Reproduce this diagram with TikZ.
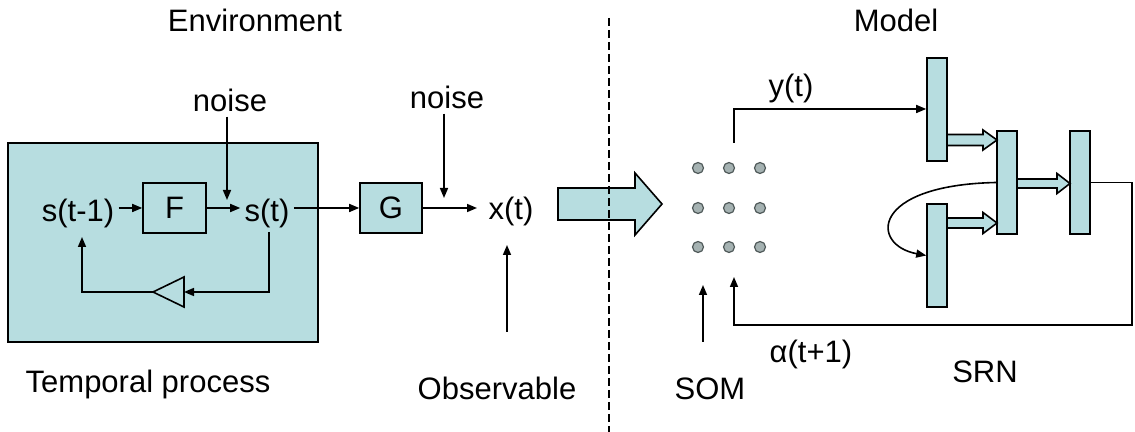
\documentclass[tikz,border=0pt]{standalone}
\usepackage{fontspec}
\setmainfont{Liberation Sans}
\usetikzlibrary{arrows.meta,calc}
\definecolor{boxfill}{RGB}{183,221,224}
\definecolor{dotfill}{RGB}{165,178,178}
\definecolor{dotline}{RGB}{80,90,90}
% fat arrow: x1, x2(tip), yc, head length, shaft half, head half
\newcommand{\fatarr}[6]{\draw[fat] (#1,#3-#5) -- (#2-#4,#3-#5) -- (#2-#4,#3-#6) -- (#2,#3) -- (#2-#4,#3+#6) -- (#2-#4,#3+#5) -- (#1,#3+#5) -- cycle;}
\begin{document}
\begin{tikzpicture}[x=0.5pt,y=-0.5pt,
  lbl/.style={font=\fontsize{15.5pt}{18pt}\selectfont, inner sep=2pt, anchor=base},
  box/.style={draw, fill=boxfill, line width=0.8pt, inner sep=0pt},
  boxtxt/.style={box, font=\fontsize{15.5pt}{18pt}\selectfont},
  layer/.style={box, minimum width=10pt, minimum height=51.5pt},
  ln/.style={line width=0.8pt},
  arr/.style={line width=0.8pt, -{Triangle[length=5pt,width=4pt]}},
  dot/.style={circle, draw=dotline, fill=dotfill, line width=0.6pt, minimum size=5.5pt, inner sep=0pt},
  fat/.style={draw, fill=boxfill, line width=0.8pt, line join=miter},
  divider/.style={line width=0.7pt, dash pattern=on 4pt off 2pt}]
\useasboundingbox (0,0) rectangle (1135,432);

% ---------- Environment ----------
\node[box, minimum width=155pt, minimum height=99.5pt] (envbox) at (163,242.5) {};
\node[lbl] (envtitle) at (255,32) {Environment};
\node[lbl] (modeltitle) at (896,32) {Model};

\node[boxtxt, minimum width=31.5pt, minimum height=25pt] (F) at (174.5,208) {F};
\node[boxtxt, minimum width=31pt, minimum height=25pt] (G) at (391,208) {G};

\node[lbl] (stm1) at (78,222) {s(t-1)};
\node[lbl] (st) at (267,222) {s(t)};
\node[lbl] (xt) at (511,220) {x(t)};
\node[lbl] (noiseA) at (230,112) {noise};
\node[lbl] (noiseB) at (447,109) {noise};
\node[lbl] (temporal) at (148,393) {Temporal process};
\node[lbl] (observable) at (497,400) {Observable};

\coordinate (nAend) at (227,200);
\coordinate (nBend) at (444,198);
\coordinate (xtin) at (477,208);
\coordinate (obsA) at (507,332);
\coordinate (obsB) at (507,245);

\draw[arr] (stm1.east |- F.west) -- (F.west);
\draw[arr] (F.east) -- (st.west |- F.east);
\draw[arr] (noiseA.south -| nAend) -- (nAend);
\draw[arr] (st.east |- G.west) -- (G.west);
\draw[arr] (G.east) -- (xtin);
\draw[arr] (noiseB.south -| nBend) -- (nBend);
\draw[arr] (obsA) -- (obsB);

% feedback with triangle
\coordinate (fbTop) at (269,232);
\coordinate (fbCorner) at (269,292);
\coordinate (triR) at (184,292);
\coordinate (triL) at (153,292);
\coordinate (fbLcorner) at (82,292);
\coordinate (fbLtop) at (82,237);
\draw[ln, fill=boxfill] (triL) -- (184,277) -- (184,307) -- cycle;
\draw[arr] (fbTop) -- (fbCorner) -- (triR);
\draw[arr] (triL) -- (fbLcorner) -- (fbLtop);

% big arrow and divider
\fatarr{558}{662}{204}{27}{16}{31}
\coordinate (divTop) at (609,18);
\coordinate (divBot) at (609,432);
\draw[divider] (divTop) -- (divBot);

% ---------- Model ----------
\foreach \c/\x in {1/698,2/729,3/760}{
  \foreach \r/\y in {1/168,2/208,3/247}{
    \node[dot] (d\r\c) at (\x,\y) {};
  }
}

\node[layer] (R1) at (937,109.5) {};
\node[layer] (R2) at (937,255.5) {};
\node[layer] (R3) at (1007,182.5) {};
\node[layer] (R4) at (1080,182.5) {};

\node[lbl] (yt) at (791,97) {y(t)};
\node[lbl] (alpha) at (811,363) {α(t+1)};
\node[lbl] (srn) at (985,383) {SRN};
\node[lbl] (som) at (710,400) {SOM};

\coordinate (ytA) at (734,143);
\coordinate (ytB) at (734,109);
\draw[arr] (ytA) -- (ytB) -- (R1.west |- ytB);

\fatarr{947}{997}{140}{14}{5.5}{10}
\fatarr{947}{997}{223}{14}{5}{10.5}
\fatarr{1017}{1070}{183.5}{13}{4.5}{10}

\draw[arr] (R3.west) .. controls (870,185) and (870,245) .. (R2.west);

\coordinate (fbR) at (1132,325);
\coordinate (fbL) at (734,325);
\coordinate (fbTip) at (734,277);
\draw[arr] (R4.east) -- (fbR |- R4.east) -- (fbR) -- (fbL) -- (fbTip);

\coordinate (somA) at (703,342);
\coordinate (somB) at (703,285);
\draw[arr] (somA) -- (somB);
\end{tikzpicture}
\end{document}
